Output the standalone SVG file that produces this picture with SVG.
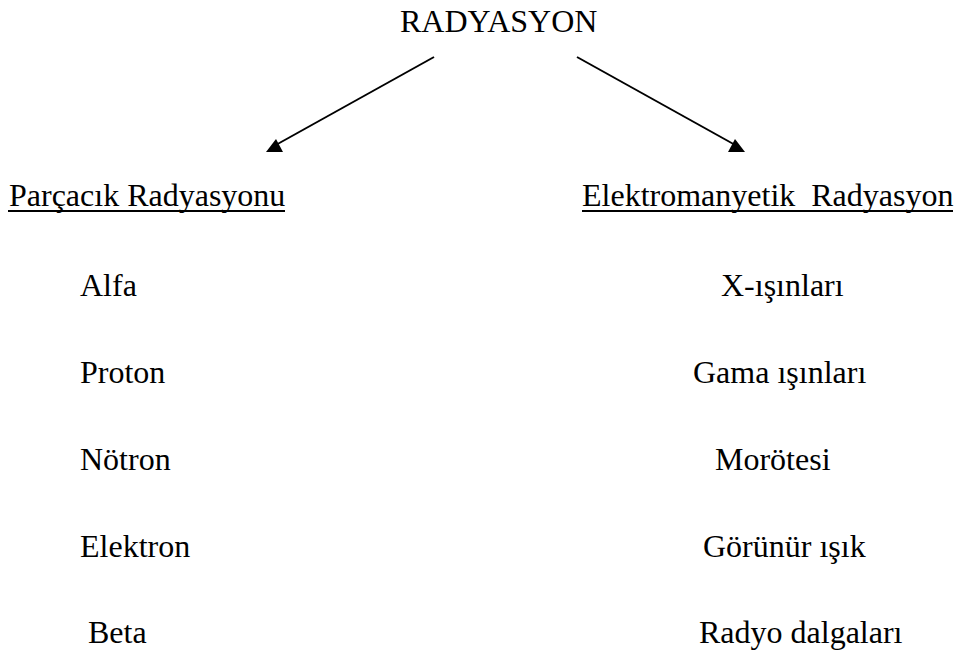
<svg xmlns="http://www.w3.org/2000/svg" width="959" height="653" viewBox="0 0 959 653">
<style>
text{font-family:"Liberation Serif","Times New Roman",serif;font-size:32px;fill:#000}
.c{stroke:#000;stroke-width:2;fill:none}
.h{fill:#000}
.u{stroke:#000;stroke-width:2}
</style>
<rect width="959" height="653" fill="#fff"/>
<g id="connectors">
<line class="c" x1="434" y1="57" x2="274" y2="146"/>
<polygon class="h" points="266,152 276,139 283,152"/>
<line class="c" x1="577" y1="57" x2="737" y2="146"/>
<polygon class="h" points="728,152 735,139 745,152"/>
</g>
<g id="root"><text x="400" y="32">RADYASYON</text></g>
<g id="particle">
<text x="9" y="206">Parçacık Radyasyonu</text>
<line class="u" x1="8" y1="211" x2="285" y2="211"/>
</g>
<g id="electromagnetic">
<text x="582" y="206" xml:space="preserve">Elektromanyetik  Radyasyon</text>
<line class="u" x1="582" y1="211" x2="953" y2="211"/>
</g>
<g id="alfa"><text x="80" y="296">Alfa</text></g>
<g id="proton"><text x="80" y="383">Proton</text></g>
<g id="notron"><text x="80" y="470">Nötron</text></g>
<g id="elektron"><text x="80" y="557">Elektron</text></g>
<g id="beta"><text x="88" y="643">Beta</text></g>
<g id="xray"><text x="721" y="296">X-ışınları</text></g>
<g id="gamma"><text x="693" y="383">Gama ışınları</text></g>
<g id="uv"><text x="715" y="470">Morötesi</text></g>
<g id="visible"><text x="703" y="557">Görünür ışık</text></g>
<g id="radio"><text x="699" y="643">Radyo dalgaları</text></g>
</svg>
